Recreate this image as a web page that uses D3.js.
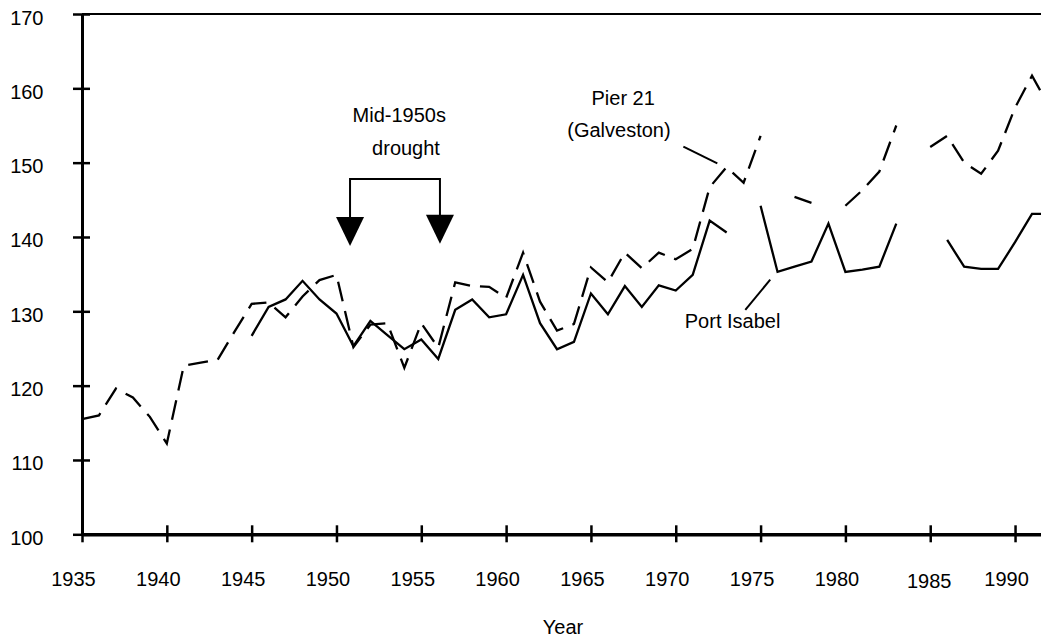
<!DOCTYPE html>
<html>
<head>
<meta charset="utf-8">
<script src="https://cdn.jsdelivr.net/npm/d3@7"></script>
<style>
body { margin: 0; background: #fff; }
text { font-family: "Liberation Sans", Arial, sans-serif; font-size: 20px; fill: #000; }
</style>
</head>
<body>
<svg id="chart"></svg>
<script>
// yearly values, null = no record that year
var years = d3.range(1935, 1993);
var pier21 = [115.5, 116.0, 119.6, 118.4, 115.8, 112.2, 122.7, 123.1, 123.5, 127.3,
              131.0, 131.2, 129.2, 132.0, 134.2, 134.9, 125.2, 128.2, 128.4, 122.4,
              128.4, 125.1, 133.9, 133.4, 133.3, 131.8, 137.9, 131.3, 127.4, 128.3,
              135.9, 133.9, 137.9, 135.8, 137.9, 137.0, 138.4, 146.7, 149.4, 147.3,
              153.6, null, 145.4, 144.6, null, 144.2, 146.3, 148.8, 155.0, null,
              152.1, 153.6, 150.0, 148.5, 151.6, 157.4, 161.7, 157.6];
var portIsabel = [null, null, null, null, null, null, null, null, null, null,
                  126.7, 130.6, 131.6, 134.1, 131.6, 129.7, 125.3, 128.7, 126.8, 124.9,
                  126.2, 123.6, 130.2, 131.6, 129.2, 129.6, 134.9, 128.4, 124.9, 125.9,
                  132.4, 129.6, 133.4, 130.6, 133.5, 132.8, 134.9, 142.2, 140.6, null,
                  144.2, 135.3, 136.0, 136.7, 141.8, 135.3, 135.6, 136.0, 141.8, null,
                  null, 139.6, 136.0, 135.7, 135.7, 139.3, 143.1, 143.1];

var xTicks = [1935, 1940, 1945, 1950, 1955, 1960, 1965, 1970, 1975, 1980, 1985, 1990];
var yTicks = [100, 110, 120, 130, 140, 150, 160, 170];

// annotation text, placed in data units (year, value)
var labels = [
    {text: "Mid-1950s", year: 1953.7, value: 155.5},
    {text: "drought", year: 1954.1, value: 151.0},
    {text: "Pier 21", year: 1966.9, value: 157.8},
    {text: "(Galveston)", year: 1966.65, value: 153.5},
    {text: "Port Isabel", year: 1973.35, value: 127.8}
];
var leaders = [
    {y0: 1970.45, v0: 152.15, y1: 1972.45, v1: 149.9},
    {y0: 1974.1, v0: 130.2, y1: 1975.57, v1: 134.25}
];
var droughtYears = [1950.8, 1956.1];
var droughtTop = 147.8, arrowTip = [138.8, 139.1];

var width = 1041, height = 642;

var svg = d3.select("#chart")
    .attr("width", width)
    .attr("height", height);

var x = d3.scaleLinear().domain([1935, 1991.53]).range([82, width]);
var y = d3.scaleLinear().domain([100, 170]).range([534.3, 14]);

// frame top line
svg.append("line")
    .attr("x1", x(1935)).attr("x2", width)
    .attr("y1", y(170)).attr("y2", y(170))
    .attr("stroke", "#000").attr("stroke-width", 2);

// y axis
var yAxis = svg.append("g")
    .attr("transform", "translate(" + x(1935) + ",0)")
    .call(d3.axisLeft(y).tickValues(yTicks).tickSizeOuter(0).tickFormat(d3.format("d")));
yAxis.select(".domain").attr("stroke", "#000").attr("stroke-width", 3);
yAxis.selectAll(".tick line").attr("x1", 8).attr("x2", -9)
    .attr("stroke", "#000").attr("stroke-width", 2.5);
yAxis.selectAll(".tick text").attr("x", -38.5).attr("dy", null).attr("y", 10)
    .attr("fill", "#000").style("font-size", null).style("font-family", null)
    .attr("font-size", null).attr("font-family", null);

// x axis
var xAxis = svg.append("g")
    .attr("transform", "translate(0," + y(100) + ")")
    .call(d3.axisBottom(x).tickValues(xTicks).tickSizeOuter(0).tickFormat(d3.format("d")));
xAxis.select(".domain").attr("stroke", "#000").attr("stroke-width", 3.5);
xAxis.selectAll(".tick line").attr("y1", -9).attr("y2", 8)
    .attr("stroke", "#000").attr("stroke-width", 2.5);
xAxis.selectAll(".tick text")
    .attr("dy", null)
    .attr("y", function(d) { return d === 1985 ? 54 : 51.5; })
    .attr("dx", function(d) { return d === 1985 ? -1.5 : -9; })
    .attr("fill", "#000");
svg.selectAll(".tick text").attr("font-size", null).attr("font-family", null);
yAxis.attr("font-size", null).attr("font-family", null);
xAxis.attr("font-size", null).attr("font-family", null);

svg.append("text")
    .attr("x", 563).attr("y", 634)
    .attr("text-anchor", "middle")
    .text("Year");

// series
var line = d3.line()
    .defined(function(d) { return d.v != null; })
    .x(function(d) { return x(d.year); })
    .y(function(d) { return y(d.v); });

function rows(vals) {
    return years.map(function(yr, i) { return {year: yr, v: vals[i]}; });
}

svg.append("path")
    .datum(rows(pier21))
    .attr("d", line)
    .attr("fill", "none")
    .attr("stroke", "#000")
    .attr("stroke-width", 2.3)
    .attr("stroke-dasharray", "20,10");

svg.append("path")
    .datum(rows(portIsabel))
    .attr("d", line)
    .attr("fill", "none")
    .attr("stroke", "#000")
    .attr("stroke-width", 2.3);

// labels and leader lines
svg.selectAll(".note")
    .data(labels)
    .enter().append("text")
    .attr("class", "note")
    .attr("x", function(d) { return x(d.year); })
    .attr("y", function(d) { return y(d.value); })
    .attr("text-anchor", "middle")
    .text(function(d) { return d.text; });

svg.selectAll(".leader")
    .data(leaders)
    .enter().append("line")
    .attr("class", "leader")
    .attr("x1", function(d) { return x(d.y0); })
    .attr("y1", function(d) { return y(d.v0); })
    .attr("x2", function(d) { return x(d.y1); })
    .attr("y2", function(d) { return y(d.v1); })
    .attr("stroke", "#000").attr("stroke-width", 2);

// drought bracket with arrows
var bracket = svg.append("g");
bracket.append("path")
    .attr("d", "M" + x(droughtYears[0]) + "," + (y(arrowTip[0]) - 28) +
               "V" + y(droughtTop) +
               "H" + x(droughtYears[1]) +
               "V" + (y(arrowTip[1]) - 28))
    .attr("fill", "none").attr("stroke", "#000").attr("stroke-width", 2);
bracket.selectAll(".head")
    .data(droughtYears)
    .enter().append("path")
    .attr("class", "head")
    .attr("d", function(d, i) {
        var tx = x(d), ty = y(arrowTip[i]);
        return "M" + tx + "," + ty + "L" + (tx - 14) + "," + (ty - 29) + "L" + (tx + 14) + "," + (ty - 29) + "Z";
    })
    .attr("fill", "#000");
</script>
</body>
</html>
